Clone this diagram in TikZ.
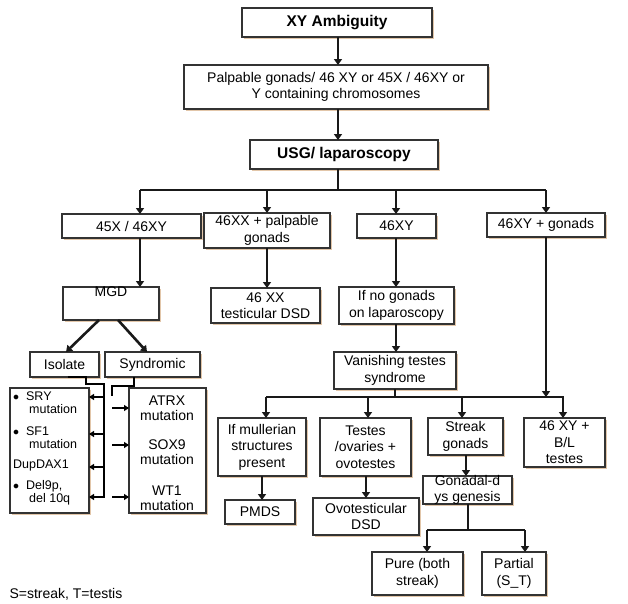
\documentclass[tikz,border=0pt]{standalone}
\usepackage{fontspec}
\setmainfont{Liberation Sans}
\usetikzlibrary{arrows.meta}
\begin{document}
\begin{tikzpicture}[x=1pt,y=-1pt,
  ln/.style={line width=2.6pt,black!90},
  ar/.style={ln,-{Triangle[length=6pt,width=8pt]}},
  sar/.style={line width=1.4pt,-{Triangle[length=5pt,width=6pt]}}]
\useasboundingbox (0,0) rectangle (628,603);
\def\B#1#2#3#4#5#6{\fill[brown!45] (#2+2,#3+2) rectangle (#4+2,#5+2);
  \draw[black!80,line width=1.3pt,fill=white] (#2,#3) rectangle (#4,#5);
  \node[align=center,font=\fontsize{14}{16.5}\selectfont,inner sep=0pt] (#1) at ({(#2+#4)/2},{(#3+#5)/2}) {#6};}
\B{a}{242}{8}{432}{37}{\bfseries\fontsize{15.5}{17}\selectfont XY Ambiguity}
\B{b}{184}{65}{488}{109}{Palpable gonads/ 46 XY or 45X / 46XY or\\Y containing chromosomes}
\B{c}{250}{140}{438}{169}{\bfseries\fontsize{15.5}{17}\selectfont USG/ laparoscopy}
\B{d1}{62}{214}{201}{238}{45X / 46XY}
\B{d2}{204}{213}{330}{248}{46XX + palpable\\gonads}
\B{d3}{357}{214}{436}{238}{46XY}
\B{d4}{487}{213}{605}{237}{46XY + gonads}
\B{mgd}{63}{287}{159}{320}{MGD\\[7pt]}
\B{xx}{211}{288}{320}{323}{46 XX\\testicular DSD}
\B{ng}{339}{287}{454}{324}{If no gonads\\on laparoscopy}
\B{vt}{334}{352}{456}{389}{Vanishing testes\\syndrome}
\B{iso}{30}{352}{99}{377}{Isolate}
\B{syn}{105}{352}{200}{377}{Syndromic}
\B{l1}{10}{388}{89}{513}{}
\B{r1}{129}{388}{206}{513}{}
\node[anchor=north west,align=left,font=\fontsize{12.5}{13}\selectfont,inner sep=0pt] (ltxt) at (13,392)
 {$\bullet$\ \ SRY\\\hspace{16pt}mutation\\[9pt]$\bullet$\ \ SF1\\\hspace{16pt}mutation\\[7pt]DupDAX1\\[8pt]$\bullet$\ \ Del9p,\\\hspace{16pt}del 10q};
\node[font=\fontsize{14}{14.5}\selectfont,align=center,inner sep=0pt] (rt1) at (167,408) {ATRX\\mutation};
\node[font=\fontsize{14}{14.5}\selectfont,align=center,inner sep=0pt] (rt2) at (167,452) {SOX9\\mutation};
\node[font=\fontsize{14}{14.5}\selectfont,align=center,inner sep=0pt] (rt3) at (167,498) {WT1\\mutation};
\B{mu}{218}{418}{306}{476}{If mullerian\\structures\\present}
\B{te}{320}{418}{411}{476}{Testes\\/ovaries +\\ovotestes}
\B{st}{428}{418}{503}{455}{Streak\\gonads}
\B{bl}{524}{418}{605}{467}{46 XY +\\B/L\\testes}
\B{pm}{225}{500}{295}{524}{PMDS}
\B{ov}{313}{498}{419}{535}{Ovotesticular\\DSD}
\B{gd}{423}{476}{512}{504}{Gonadal-d\\ys genesis}
\B{pu}{372}{552}{463}{595}{Pure (both\\streak)}
\B{pa}{482}{552}{546}{595}{Partial\\(S\_T)}
\node[anchor=west,font=\fontsize{14}{16}\selectfont] (ft) at (6,594) {S=streak, T=testis};
% connectors
\draw[ar] (338,37) -- (338,65);
\draw[ar] (338,109) -- (338,140);
\draw[ln] (338,169) -- (338,190);
\draw[ln] (140,190) -- (546,190);
\draw[ar] (140,190) -- (140,214);
\draw[ar] (267,190) -- (267,213);
\draw[ar] (396,190) -- (396,214);
\draw[ar] (546,190) -- (546,213);
\draw[ar] (140,238) -- (140,287);
\draw[ar] (267,248) -- (267,288);
\draw[ar] (396,238) -- (396,287);
\draw[ar] (396,324) -- (396,352);
\draw[ar] (99,320) -- (66,352);
\draw[ar] (118,320) -- (147,352);
\draw[ar] (546,237) -- (546,397);
\draw[ln] (395,389) -- (395,397);
\draw[ln] (266,397) -- (564,397);
\draw[ar] (266,397) -- (266,418);
\draw[ar] (368,397) -- (368,418);
\draw[ar] (462,397) -- (462,418);
\draw[ar] (563,397) -- (563,418);
\draw[ar] (262,476) -- (262,500);
\draw[ar] (366,476) -- (366,498);
\draw[ar] (466,455) -- (466,476);
\draw[ln] (468,504) -- (468,530);
\draw[ln] (427,530) -- (525,530);
\draw[ar] (427,530) -- (427,552);
\draw[ar] (525,530) -- (525,552);
% isolate / syndromic brackets
\draw[line width=1.4pt] (68,377) -- (86,377) -- (86,384) -- (104,384) -- (104,498);
\foreach \y in {397,434,467,497} \draw[sar] (104,\y) -- (89,\y);
\draw[line width=1.4pt] (134,377) -- (134,386) -- (112,386) -- (112,396);
\foreach \y in {408,445,497} \draw[sar] (112,\y) -- (129,\y);
\end{tikzpicture}
\end{document}
